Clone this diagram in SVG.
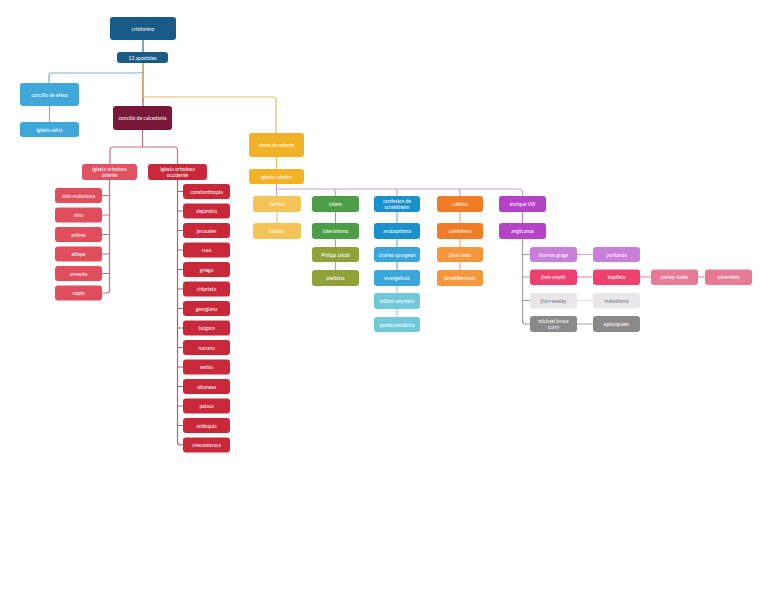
<svg xmlns="http://www.w3.org/2000/svg" width="768" height="594" viewBox="0 0 768 594">
<style>
text{font-family:Lato,"Liberation Sans",sans-serif;font-size:5px;fill:#fff;text-anchor:middle;dominant-baseline:central}
.c{fill:none;stroke-width:1.2;stroke-linejoin:round;stroke-linecap:round}
rect{rx:3;ry:3}
.dk text{fill:#777}
</style>
<rect width="768" height="594" fill="#fff"/>
<g id="connectors">
<path class="c" stroke="#2e6f9a" d="M143,40V52"/>
<path class="c" stroke="#9b4a6a" d="M143,63V106"/>
<path class="c" stroke="#7ab3d8" d="M143,63V70q0,3-3,3H52q-3,0-3,3V83"/>
<path class="c" stroke="#e8bd5a" d="M143,63V97H273q3,0 3,3V133"/>
<path class="c" stroke="#7ab3d8" d="M49.5,106V122"/>
<path class="c" stroke="#e8bd5a" d="M276.5,157V169"/>
<path class="c" stroke="#c2707f" d="M142.5,130V147H113q-3,0-3,3V164M142.5,147H174.5q3,0 3,3V164"/>
<path class="c" stroke="#c2707f" d="M109.5,180V290q0,3-3,3H102M109.5,195.5H102M109.5,215H102M109.5,234.5H102M109.5,254H102M109.5,273.5H102"/>
<path class="c" stroke="#b9606c" d="M177.5,180V442q0,3 3,3H183M177.5,191.5H183M177.5,211H183M177.5,230.5H183M177.5,250H183M177.5,269.5H183M177.5,289H183M177.5,308.5H183M177.5,328H183M177.5,347.5H183M177.5,367H183M177.5,386.5H183M177.5,406H183M177.5,425.5H183"/>
<path class="c" stroke="#c9a3d8" d="M276.5,184V196M277,189H519.5q3,0 3,3V196M332.5,189q3,0 3,3V196M394,189q3,0 3,3V196M457,189q3,0 3,3V196"/>
<path class="c" stroke="#e8c878" d="M277,212V223"/>
<path class="c" stroke="#7fb27a" d="M335.5,212V223"/>
<path class="c" stroke="#a7b566" d="M335.5,239V247M335.5,262V270"/>
<path class="c" stroke="#6cb3dc" d="M397,212V223M397,239V247M397,262V270"/>
<path class="c" stroke="#9dd3df" d="M397,286V293M397,309V317"/>
<path class="c" stroke="#f2a86a" d="M460,212V223M460,239V247M460,262V270"/>
<path class="c" stroke="#c27ed2" d="M522.5,212V223"/>
<path class="c" stroke="#a69aa6" d="M522.5,239V321q0,3 3,3H530M522.5,254.5H530M522.5,277H530M522.5,300.5H530"/>
<path class="c" stroke="#d6a2e0" d="M577,254.5H593"/>
<path class="c" stroke="#ef7a98" d="M577,277H593M640,277H651M698,277H705"/>
<path class="c" stroke="#e4e2e4" d="M577,300.5H593"/>
<path class="c" stroke="#a8a8a8" d="M577,324H593"/>
</g>
<g id="n-cristianino"><rect x="110" y="17" width="66" height="23" fill="#165a85"/><text x="143" y="28.5">cristianino</text></g>
<g id="n-apostoles"><rect x="117" y="52" width="51" height="11" fill="#1b5b88"/><text x="142.5" y="57.5">12 apostoles</text></g>
<g id="n-efeso"><rect x="20" y="83" width="59" height="23" fill="#3fa8d8"/><text x="49.5" y="94.5">concilio de efeso</text></g>
<g id="n-asiria"><rect x="20" y="122" width="59" height="15" fill="#3fa8d8"/><text x="49.5" y="129.5">iglesia asiria</text></g>
<g id="n-calcedonia"><rect x="113" y="106" width="59" height="24" fill="#7a1637"/><text x="142.5" y="118">concilio de calcedonia</text></g>
<g id="n-cisma"><rect x="249" y="133" width="55" height="24" fill="#f2b226"/><text x="276.5" y="145">cisma de oriente</text></g>
<g id="n-catolica"><rect x="249" y="169" width="55" height="15" fill="#f2b226"/><text x="276.5" y="176.5">iglesia catolica</text></g>
<g id="n-oriente"><rect x="82" y="164" width="55" height="16" fill="#e05162"/><text x="109.5" y="169.2">iglesia ortodoxa</text><text x="109.5" y="175">oriente</text></g>
<g id="n-occidente"><rect x="148" y="164" width="59" height="16" fill="#c8283a"/><text x="177.5" y="169.2">iglesia ortodoxa</text><text x="177.5" y="175">occidente</text></g>
<g id="n-sirio"><rect x="55" y="188" width="47" height="15" fill="#e04e5e"/><text x="78.5" y="195.5">sirio malankara</text></g>
<g id="n-siria"><rect x="55" y="207.5" width="47" height="15" fill="#e04e5e"/><text x="78.5" y="215">siria</text></g>
<g id="n-eritrea"><rect x="55" y="227" width="47" height="15" fill="#e04e5e"/><text x="78.5" y="234.5">eritrea</text></g>
<g id="n-etiope"><rect x="55" y="246.5" width="47" height="15" fill="#e04e5e"/><text x="78.5" y="254">etiope</text></g>
<g id="n-armenia"><rect x="55" y="266" width="47" height="15" fill="#e04e5e"/><text x="78.5" y="273.5">armenia</text></g>
<g id="n-copta"><rect x="55" y="285.5" width="47" height="15" fill="#e04e5e"/><text x="78.5" y="293">copta</text></g>
<g id="n-constantinopla"><rect x="183" y="184" width="47" height="15" fill="#c8283a"/><text x="206.5" y="191.5">constantinopla</text></g>
<g id="n-alejandria"><rect x="183" y="203.5" width="47" height="15" fill="#c8283a"/><text x="206.5" y="211">alejandria</text></g>
<g id="n-jerusalen"><rect x="183" y="223" width="47" height="15" fill="#c8283a"/><text x="206.5" y="230.5">jerusalen</text></g>
<g id="n-rusa"><rect x="183" y="242.5" width="47" height="15" fill="#c8283a"/><text x="206.5" y="250">rusa</text></g>
<g id="n-griega"><rect x="183" y="262" width="47" height="15" fill="#c8283a"/><text x="206.5" y="269.5">griega</text></g>
<g id="n-chipriota"><rect x="183" y="281.5" width="47" height="15" fill="#c8283a"/><text x="206.5" y="289">chipriota</text></g>
<g id="n-georgiana"><rect x="183" y="301" width="47" height="15" fill="#c8283a"/><text x="206.5" y="308.5">georgiana</text></g>
<g id="n-bulgara"><rect x="183" y="320.5" width="47" height="15" fill="#c8283a"/><text x="206.5" y="328">bulgara</text></g>
<g id="n-rumana"><rect x="183" y="340" width="47" height="15" fill="#c8283a"/><text x="206.5" y="347.5">rumana</text></g>
<g id="n-serbia"><rect x="183" y="359.5" width="47" height="15" fill="#c8283a"/><text x="206.5" y="367">serbia</text></g>
<g id="n-albanesa"><rect x="183" y="379" width="47" height="15" fill="#c8283a"/><text x="206.5" y="386.5">albanesa</text></g>
<g id="n-polaca"><rect x="183" y="398.5" width="47" height="15" fill="#c8283a"/><text x="206.5" y="406">polaca</text></g>
<g id="n-antioquia"><rect x="183" y="418" width="47" height="15" fill="#c8283a"/><text x="206.5" y="425.5">antioquia</text></g>
<g id="n-checoslovaca"><rect x="183" y="437.5" width="47" height="15" fill="#c8283a"/><text x="206.5" y="445">checoslovaca</text></g>
<g id="n-janhus"><rect x="253" y="196" width="48" height="16" fill="#f4c458"/><text x="277" y="204">jan hus</text></g>
<g id="n-husitas"><rect x="253" y="223" width="48" height="16" fill="#f4c458"/><text x="277" y="231">husitas</text></g>
<g id="n-lutero"><rect x="312" y="196" width="47" height="16" fill="#4b9e47"/><text x="335.5" y="204">lutero</text></g>
<g id="n-luteranismo"><rect x="312" y="223" width="47" height="16" fill="#4b9e47"/><text x="335.5" y="231">luteranismo</text></g>
<g id="n-philipp"><rect x="312" y="247" width="47" height="15" fill="#8fa23a"/><text x="335.5" y="254.5">Philipp Jakob</text></g>
<g id="n-pietistas"><rect x="312" y="270" width="47" height="16" fill="#8fa23a"/><text x="335.5" y="278">pietistas</text></g>
<g id="n-confesion"><rect x="374" y="196" width="46" height="16" fill="#1a90cc"/><text x="397" y="201">confesion de</text><text x="397" y="207">schleitheim</text></g>
<g id="n-anabaptismo"><rect x="374" y="223" width="46" height="16" fill="#1a90cc"/><text x="397" y="231">anabaptismo</text></g>
<g id="n-spurgeon"><rect x="374" y="247" width="46" height="15" fill="#3aa6d9"/><text x="397" y="254.5">charles spurgeon</text></g>
<g id="n-evangelicos"><rect x="374" y="270" width="46" height="16" fill="#3aa6d9"/><text x="397" y="278">evangelicos</text></g>
<g id="n-seymour"><rect x="374" y="293" width="46" height="16" fill="#70c8d8"/><text x="397" y="301">william seymour</text></g>
<g id="n-pentecostalistas"><rect x="374" y="317" width="46" height="15" fill="#70c8d8"/><text x="397" y="324.5">pentecostalistas</text></g>
<g id="n-calvino"><rect x="437" y="196" width="46" height="16" fill="#f07c28"/><text x="460" y="204">calvino</text></g>
<g id="n-calvinismo"><rect x="437" y="223" width="46" height="16" fill="#f07c28"/><text x="460" y="231">calvinismo</text></g>
<g id="n-knox"><rect x="437" y="247" width="46" height="15" fill="#f5973a"/><text x="460" y="254.5">jhon knox</text></g>
<g id="n-presbiterianos"><rect x="437" y="270" width="46" height="16" fill="#f5973a"/><text x="460" y="278">presbiterianos</text></g>
<g id="n-enrique"><rect x="499" y="196" width="47" height="16" fill="#b443c8"/><text x="522.5" y="204">enrique VIII</text></g>
<g id="n-anglicanos"><rect x="499" y="223" width="47" height="16" fill="#b443c8"/><text x="522.5" y="231">anglicanos</text></g>
<g id="n-grage"><rect x="530" y="247" width="47" height="15" fill="#c97ed9"/><text x="553.5" y="254.5">thomas grage</text></g>
<g id="n-puritanos"><rect x="593" y="247" width="47" height="15" fill="#c97ed9"/><text x="616.5" y="254.5">puritanos</text></g>
<g id="n-smyth"><rect x="530" y="269.5" width="47" height="15.5" fill="#ee406f"/><text x="553.5" y="277.2">jhon smyth</text></g>
<g id="n-baptista"><rect x="593" y="269.5" width="47" height="15.5" fill="#ee406f"/><text x="616.5" y="277.2">baptista</text></g>
<g id="n-bates"><rect x="651" y="269.5" width="47" height="15.5" fill="#e67993"/><text x="674.5" y="277.2">joshep bates</text></g>
<g id="n-adventista"><rect x="705" y="269.5" width="47" height="15.5" fill="#e67993"/><text x="728.5" y="277.2">adventista</text></g>
<g id="n-wesley" class="dk"><rect x="530" y="293" width="47" height="15.5" fill="#e8e6e8"/><text x="553.5" y="300.7">jhon wesley</text></g>
<g id="n-metodismo" class="dk"><rect x="593" y="293" width="47" height="15.5" fill="#e8e6e8"/><text x="616.5" y="300.7">metodismo</text></g>
<g id="n-curry"><rect x="530" y="316" width="47" height="16" fill="#8a8a8a"/><text x="553.5" y="321">michael bruce</text><text x="553.5" y="327">curry</text></g>
<g id="n-episcopales"><rect x="593" y="316" width="47" height="16" fill="#8a8a8a"/><text x="616.5" y="324">episcopales</text></g>
</svg>
